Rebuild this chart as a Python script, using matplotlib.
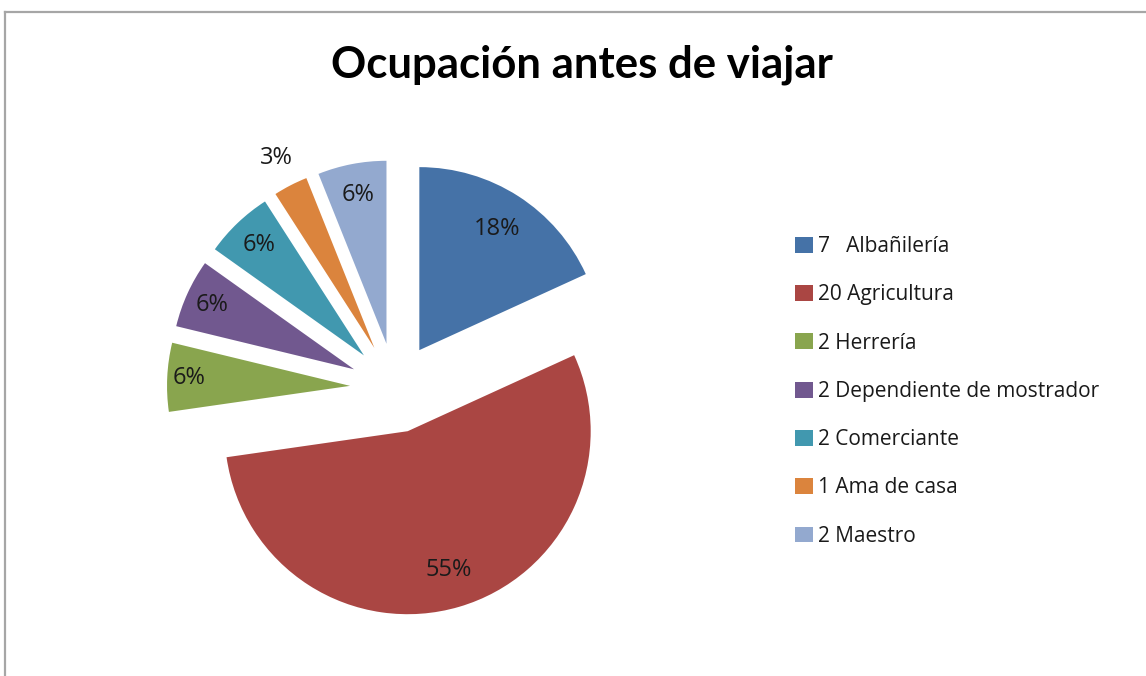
import numpy as np
import matplotlib
matplotlib.use("Agg")
import matplotlib.pyplot as plt
from matplotlib.lines import Line2D
from matplotlib.patches import Patch

# ---- data ----
categories = ["7   Albañilería", "20 Agricultura", "2 Herrería",
              "2 Dependiente de mostrador", "2 Comerciante",
              "1 Ama de casa", "2 Maestro"]
shares = [6, 18, 2, 2, 2, 1, 2]          # proportions as drawn (18%,55%,6%,...,3%,6%)
pct_labels = ["18%", "55%", "6%", "6%", "6%", "3%", "6%"]
title = "Ocupación antes de viajar"

colors = ["#4572A7", "#AA4643", "#89A54E", "#71588F", "#4198AF", "#DB843D", "#93A9CF"]

W, H = 1146, 676
fig = plt.figure(figsize=(W / 100, H / 100), dpi=100)
fig.patch.set_facecolor("white")

# pie axes: centre at (395, 388) px from top-left, 1 data unit = 183 px
R = 183.0
half = 1.4 * R
cx, cy = 395, 388
ax = fig.add_axes([(cx - half) / W, (H - cy - half) / H, 2 * half / W, 2 * half / H])
ax.set_xlim(-1.4, 1.4)
ax.set_ylim(-1.4, 1.4)
ax.axis("off")

lfont = "Open Sans"
wedges, _ = ax.pie(shares, explode=[0.246] * len(shares), colors=colors,
                   startangle=90, counterclock=False, radius=1.0,
                   wedgeprops=dict(linewidth=0), frame=False)
ax.set_xlim(-1.4, 1.4)
ax.set_ylim(-1.4, 1.4)

dists = [0.79, 0.79, 0.88, 0.85, 0.83, 1.17, 0.83]
for w, lab, dd in zip(wedges, pct_labels, dists):
    ang = np.deg2rad((w.theta1 + w.theta2) / 2)
    x0, y0 = w.center
    ax.text(x0 + dd * np.cos(ang), y0 + dd * np.sin(ang), lab,
            ha="center", va="center", fontsize=17, family=lfont, color="#1a1a1a")

fig.text(582 / W, 1 - 65 / H, title, ha="center", va="center",
         fontsize=31.5, fontweight="bold", family="Lato", color="black")

handles = [Patch(facecolor=c, edgecolor="none") for c in colors]
leg = fig.legend(handles, categories, loc="upper left",
                 bbox_to_anchor=(795 / W, 1 - 236 / H), frameon=False,
                 prop=dict(family=lfont, size=15), labelspacing=1.31,
                 handlelength=0.85, handleheight=0.8, handletextpad=0.25,
                 borderaxespad=0, borderpad=0)
for t in leg.get_texts():
    t.set_color("#1a1a1a")

# chart-area border (top and left edges visible)
bc = "#a6a6a6"
fig.add_artist(Line2D([5 / W, 1.0], [1 - 12 / H, 1 - 12 / H], transform=fig.transFigure,
                      color=bc, linewidth=1.6))
fig.add_artist(Line2D([5 / W, 5 / W], [1 - 12 / H, 0.0], transform=fig.transFigure,
                      color=bc, linewidth=1.6))

fig.savefig("out.png", dpi=100, facecolor="white")
